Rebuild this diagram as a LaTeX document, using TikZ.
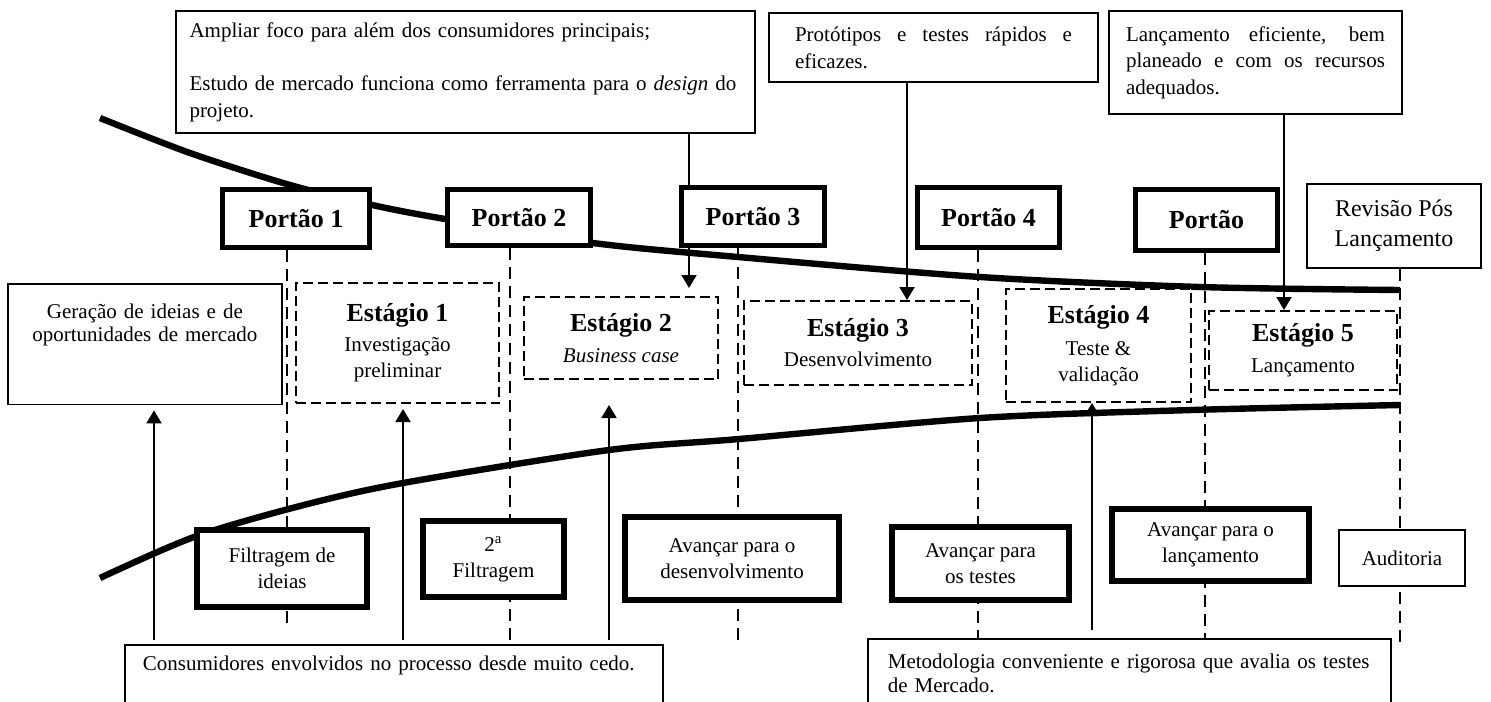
\documentclass[tikz,border=0pt]{standalone}
\usepackage{fontspec}
\setmainfont{Liberation Serif}
\usetikzlibrary{arrows.meta,backgrounds}
\hyphenpenalty=10000
\exhyphenpenalty=10000

\tikzset{
    gate/.style={draw, line width=2.5pt, fill=white, inner sep=2pt,
        font=\fontsize{13}{15}\selectfont\bfseries},
    stagebox/.style={draw, line width=0.8pt, dash pattern=on 5pt off 2.5pt,
        fill=white, align=center, font=\fontsize{10.5}{13}\selectfont},
    plainbox/.style={draw, line width=0.9pt, fill=white,
        font=\fontsize{10.5}{13}\selectfont},
    filterbox/.style={draw, line width=2.8pt, fill=white, align=center,
        font=\fontsize{10.5}{13}\selectfont},
    gateline/.style={line width=1.3pt, dash pattern=on 6pt off 3.5pt},
    bigcurve/.style={line width=3.2pt},
    arr/.style={line width=0.9pt, -{Triangle[length=6.5pt,width=7.5pt]}},
}
\newcommand{\stagename}[1]{{\fontsize{13}{15}\selectfont\bfseries #1}}

\begin{document}
\begin{tikzpicture}[x=0.5pt,y=-0.5pt]
\useasboundingbox (0,0) rectangle (1491,701);

\node[plainbox, align=left, text width=276pt, inner xsep=6.7pt,
    minimum height=61pt, font=\fontsize{10.5}{13.5}\selectfont] (c1) at (465.5,72)
    {Ampliar foco para além dos consumidores principais;\\[13pt]
     Estudo de mercado funciona como ferramenta para o \textit{design} do projeto.};
\node[plainbox, align=justify, text width=138.5pt, inner xsep=13pt,
    minimum height=34.6pt, font=\fontsize{10.5}{13.5}\selectfont] (c2) at (933.5,47.5)
    {Protótipos e testes rápidos e eficazes.};
\node[plainbox, align=justify, text width=129.5pt, inner xsep=8.5pt,
    minimum height=51.6pt, font=\fontsize{10.5}{13.25}\selectfont] (c3) at (1255.5,62.5)
    {Lançamento eficiente, bem planeado e com os recursos adequados.};

\node[gate, minimum width=73.5pt, minimum height=29pt] (p1) at (296,218.5) {Portão 1};
\node[gate, minimum width=71.5pt, minimum height=28pt] (p2) at (519,217.5) {Portão 2};
\node[gate, minimum width=71.5pt, minimum height=29pt] (p3) at (753,216.5) {Portão 3};
\node[gate, minimum width=71pt, minimum height=30pt] (p4) at (988.5,217.5) {Portão 4};
\node[gate, minimum width=71pt, minimum height=30.5pt] (p5) at (1206.5,220) {Portão};
\node[plainbox, align=center, minimum width=87pt, minimum height=42pt,
    font=\fontsize{12}{15}\selectfont] (rev) at (1394,226) {Revisão Pós\\Lançamento};

\node[plainbox, anchor=north west, align=center, text width=129pt, inner xsep=4pt,
    inner ysep=10pt, text depth=33pt, font=\fontsize{10.5}{11.5}\selectfont] (ger) at (7,283)
    {Geração de ideias e de\\oportunidades de mercado};
\node[stagebox, minimum width=101.7pt, minimum height=60.2pt] (s1) at (397.5,343)
    {\stagename{Estágio 1}\\[2pt]Investigação\\preliminar};
\node[stagebox, minimum width=97.2pt, minimum height=41.2pt] (s2) at (621,338)
    {\stagename{Estágio 2}\\[2.5pt]\textit{Business case}};
\node[stagebox, minimum width=114.2pt, minimum height=42.2pt] (s3) at (858,343)
    {\stagename{Estágio 3}\\[2pt]Desenvolvimento};
\node[stagebox, minimum width=92.7pt, minimum height=56.7pt] (s4) at (1098.5,345.5)
    {\stagename{Estágio 4}\\[3pt]Teste \&\\validação};
\node[stagebox, minimum width=94.2pt, minimum height=39.7pt] (s5) at (1303,350.5)
    {\stagename{Estágio 5}\\[2.5pt]Lançamento};

\node[filterbox, minimum width=85.2pt, minimum height=38.7pt] (f1) at (282,568.5) {Filtragem de\\ideias};
\node[filterbox, minimum width=70.7pt, minimum height=38.2pt] (f2) at (493.5,559) {2\textsuperscript{a}\\Filtragem};
\node[filterbox, minimum width=107.2pt, minimum height=41.7pt] (f3) at (732,558.5) {Avançar para o\\desenvolvimento};
\node[filterbox, minimum width=88.7pt, minimum height=36.7pt] (f4) at (980.5,563.5) {Avançar para\\os testes};
\node[filterbox, minimum width=98.7pt, minimum height=36.2pt] (f5) at (1210.5,545) {Avançar para o\\lançamento};
\node[plainbox, minimum width=63pt, minimum height=28pt] (aud) at (1402,558) {Auditoria};

\node[plainbox, anchor=north west, align=left, text width=251pt, inner xsep=9pt,
    inner ysep=5.7pt, text depth=40pt] (cons) at (124,644)
    {Consumidores envolvidos no processo desde muito cedo.};
\node[plainbox, anchor=north west, align=left, text width=241.6pt, inner xsep=10pt,
    inner ysep=7.7pt, text depth=40pt, font=\fontsize{10.5}{12}\selectfont] (met) at (867,638)
    {Metodologia conveniente e rigorosa que avalia os testes de Mercado.};

\coordinate (k1) at (287,625);
\coordinate (k2) at (510,0);
\coordinate (k3) at (738,643);
\coordinate (k4) at (978,0);
\coordinate (k5) at (1205,0);
\coordinate (k6) at (1400,643);
\coordinate (dn2) at (689,0);
\coordinate (dn3) at (907,0);
\coordinate (dn5) at (1284,0);
\coordinate (up0) at (154,0);
\coordinate (up1) at (403,0);
\coordinate (up2) at (609,0);
\coordinate (up4) at (1092,0);

\begin{pgfonlayer}{background}
\draw[bigcurve] plot[smooth] coordinates {(100,118) (190,153) (290,185) (372,205) (445,219)
    (593,243) (738,257) (980,277) (1200,287) (1400,290)};
\draw[bigcurve] plot[smooth] coordinates {(100,578) (194,537) (300,506) (403,483) (609,450)
    (739,439) (980,418) (1192,410) (1400,405)};

\draw[gateline] (p1.south -| k1) -- (k1);
\draw[gateline] (p2.south -| k2) -- (cons.north -| k2);
\draw[gateline] (p3.south -| k3) -- (k3);
\draw[gateline] (p4.south -| k4) -- (met.north -| k4);
\draw[gateline] (p5.south -| k5) -- (met.north -| k5);
\draw[gateline] (rev.south -| k6) -- (k6);

\draw[arr, shorten >=4pt] (c1.south -| dn2) -- (s2.north -| dn2);
\draw[arr] (c2.south -| dn3) -- (s3.north -| dn3);
\draw[arr] (c3.south -| dn5) -- (s5.north -| dn5);
\draw[arr, shorten <=2pt, shorten >=2.5pt] (cons.north -| up0) -- (ger.south -| up0);
\draw[arr, shorten <=2pt, shorten >=2.5pt] (cons.north -| up1) -- (s1.south -| up1);
\draw[arr, shorten <=2pt, shorten >=12.5pt] (cons.north -| up2) -- (s2.south -| up2);
\draw[arr, shorten <=4pt] (met.north -| up4) -- (s4.south -| up4);
\end{pgfonlayer}
\end{tikzpicture}
\end{document}
